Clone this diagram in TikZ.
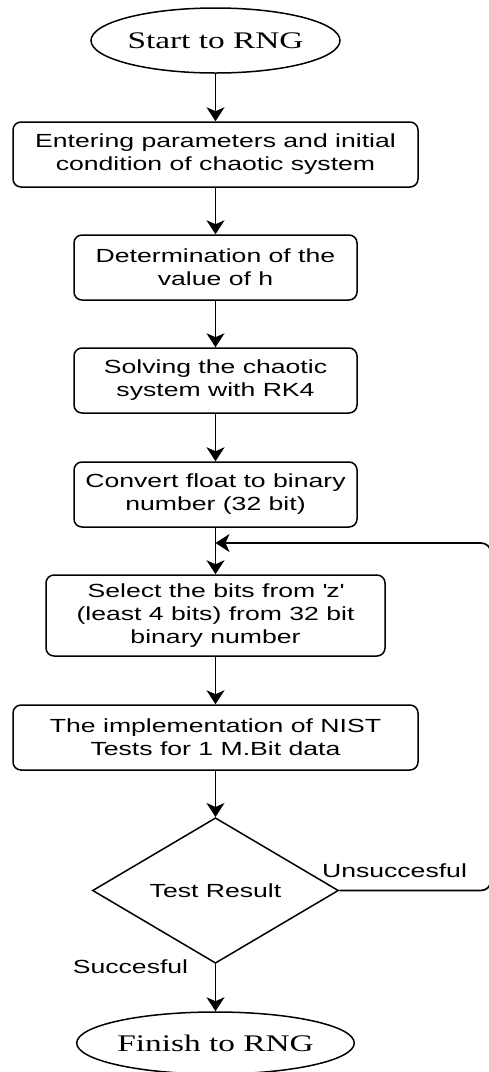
\documentclass[tikz,border=0pt]{standalone}
\usepackage{fontspec}
\setmainfont{Liberation Sans}[FakeStretch=1.4]
\newfontfamily\termfont{Liberation Serif}[FakeStretch=1.4]
\usetikzlibrary{shapes.geometric,arrows.meta}

\begin{document}
\begin{tikzpicture}[x=1pt,y=-1pt,
  every node/.style={font=\fontsize{19}{23}\selectfont},
  box/.style={draw,line width=1.5pt,rounded corners=8pt,align=center,inner sep=0pt},
  term/.style={draw,ellipse,line width=1.5pt,inner sep=0pt,
    minimum width=249pt,font=\termfont\fontsize{23.8}{26}\selectfont},
  flow/.style={line width=1.7pt,-{Stealth[length=14pt,width=18pt,inset=4pt]}}]
\useasboundingbox (0,0) rectangle (489,1072);

\node[term,minimum height=65pt] (start) at (215.5,40.5) {Start to RNG};
\node[box,minimum width=405pt,minimum height=65pt] (param) at (215.5,154.5)
  {Entering parameters and initial\\condition of chaotic system};
\node[box,minimum width=283pt,minimum height=65pt] (hval) at (215.5,267.5)
  {Determination of the\\value of h};
\node[box,minimum width=283pt,minimum height=65pt] (rk4) at (215.5,380.5)
  {Solving the chaotic\\system with RK4};
\node[box,minimum width=283pt,minimum height=65pt] (conv) at (215.5,494.5)
  {Convert float to binary\\number (32 bit)};
\node[box,minimum width=339pt,minimum height=81pt] (bits) at (215.5,615.5)
  {Select the bits from \textquotesingle z\textquotesingle\\(least 4 bits) from 32 bit\\binary number};
\node[box,minimum width=405pt,minimum height=65pt] (nist) at (215.5,737.5)
  {The implementation of NIST\\Tests for 1 M.Bit data};
\node[draw,diamond,line width=1.5pt,inner sep=0pt,
  minimum width=246pt,minimum height=145pt] (test) at (215.5,890.5) {Test Result};
\node[term,minimum height=62pt] (finish) at (215.5,1043) {Finish to RNG};

% branch labels
\node (nok) at (394.5,871) {Unsuccesful};
\node (ok) at (130.5,967) {Succesful};

\coordinate (join) at (215.5,543);

\draw[flow] (start) -- (param);
\draw[flow] (param) -- (hval);
\draw[flow] (hval) -- (rk4);
\draw[flow] (rk4) -- (conv);
\draw[flow] (conv) -- (bits);
\draw[flow] (bits) -- (nist);
\draw[flow] (nist) -- (test);
\draw[flow] (test) -- (finish);

% back to the bit selection
\draw[flow,rounded corners=10pt] (test.east) -| (491,543) -- (join);
\end{tikzpicture}
\end{document}
